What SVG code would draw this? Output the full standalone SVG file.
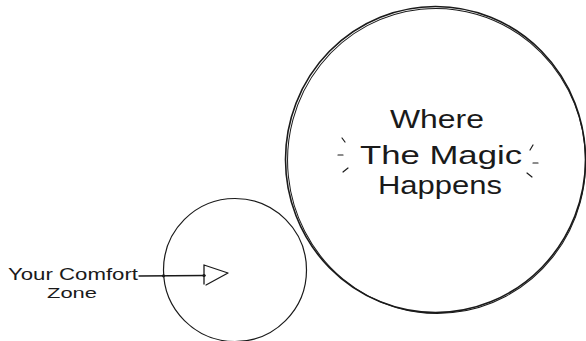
<svg xmlns="http://www.w3.org/2000/svg" width="586" height="341" viewBox="0 0 586 341">
<style>
.ln{fill:none;stroke:#1a1a1a;stroke-linecap:round;stroke-linejoin:round}
.t{font-family:"Liberation Sans","DejaVu Sans",sans-serif;fill:#1a1a1a}
</style>
<rect width="586" height="341" fill="#ffffff"/>
<g id="magic-zone">
<ellipse class="ln" cx="435.5" cy="159.5" rx="150" ry="153" stroke-width="1.6"/>
<ellipse class="ln" cx="436.5" cy="161" rx="149" ry="152.5" stroke-width="1" transform="rotate(-6 436 160)"/>
<text class="t" x="437" y="128" font-size="25" text-anchor="middle" textLength="94" lengthAdjust="spacingAndGlyphs">Where</text>
<text class="t" x="441" y="164" font-size="25" text-anchor="middle" textLength="162" lengthAdjust="spacingAndGlyphs">The Magic</text>
<text class="t" x="440" y="194" font-size="25" text-anchor="middle" textLength="124" lengthAdjust="spacingAndGlyphs">Happens</text>
<g class="ln" stroke-width="1.2">
<path d="M342 138 L345 142 M338 155 L343 155 M343 172 L348 168"/>
<path d="M533 145 L530 150 M533 163 L538 163 M527 173 L532 177"/>
</g>
</g>
<g id="comfort-zone">
<circle class="ln" cx="235" cy="270" r="71.5" stroke-width="1.2"/>
<text class="t" x="8" y="280" font-size="16" textLength="130" lengthAdjust="spacingAndGlyphs">Your Comfort</text>
<text class="t" x="72" y="298" font-size="15" text-anchor="middle" textLength="50" lengthAdjust="spacingAndGlyphs">Zone</text>
</g>
<g id="connectors">
<path class="ln" stroke-width="1.3" d="M139 276 L205 275.5"/>
<path class="ln" stroke-width="1.3" d="M204 265 L204 284 M204 265 L228 273 L206 285"/>
<circle cx="163.5" cy="275.8" r="1.6" fill="#1a1a1a"/>
<circle cx="204" cy="275.5" r="1.6" fill="#1a1a1a"/>
</g>
</svg>
